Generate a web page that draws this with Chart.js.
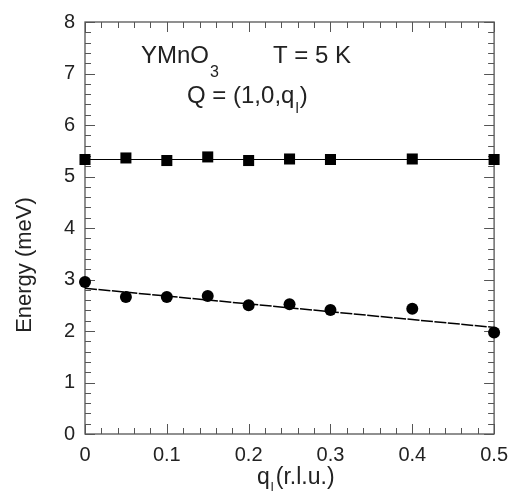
<!DOCTYPE html>
<html lang="en">
<head>
  <meta charset="UTF-8">
  <title>YMnO3 - Energy vs q</title>
  <script src="https://cdn.jsdelivr.net/npm/chart.js"></script>
  <style>
    html, body { margin: 0; padding: 0; background: #fff; }
  </style>
</head>
<body>
  <canvas id="myChart" width="517" height="501"></canvas>
  <script>
    // values
    const qValues = [0, 0.05, 0.1, 0.15, 0.2, 0.25, 0.3, 0.4, 0.5];
    const upperMode = [5.33, 5.36, 5.31, 5.38, 5.31, 5.34, 5.33, 5.34, 5.33];
    const lowerMode = [2.95, 2.66, 2.66, 2.68, 2.50, 2.52, 2.41, 2.43, 1.97];
    const fitQ = [0, 0.5];
    const upperFit = [5.33, 5.33];
    const lowerFit = [2.83, 2.07];

    const FONT = '"Liberation Sans", Arial, Helvetica, sans-serif';
    const frameColor = '#555';
    const textColor = '#222';

    const toPoints = (xs, ys) => xs.map((x, i) => ({ x: x, y: ys[i] }));

    // frame, inside ticks (major + minor), axis titles and the text labels
    const decorations = {
      id: 'decorations',
      beforeDatasetsDraw(chart) {
        const { ctx, chartArea: a, scales: { x, y } } = chart;
        ctx.save();
        ctx.strokeStyle = frameColor;
        ctx.lineWidth = 1.3;
        ctx.strokeRect(a.left, a.top, a.right - a.left, a.bottom - a.top);

        ctx.lineWidth = 1;
        ctx.beginPath();
        for (let i = 0; i <= 25; i++) {
          const px = Math.round(x.getPixelForValue(i * 0.02)) + 0.5;
          const len = i % 5 === 0 ? 10 : 6;
          ctx.moveTo(px, a.bottom); ctx.lineTo(px, a.bottom - len);
          ctx.moveTo(px, a.top); ctx.lineTo(px, a.top + len);
        }
        for (let i = 0; i <= 40; i++) {
          const py = Math.round(y.getPixelForValue(i * 0.2)) + 0.5;
          const len = i % 5 === 0 ? 10 : 6;
          ctx.moveTo(a.left, py); ctx.lineTo(a.left + len, py);
          ctx.moveTo(a.right, py); ctx.lineTo(a.right - len, py);
        }
        ctx.stroke();
        ctx.restore();
      },
      afterDraw(chart) {
        const { ctx } = chart;
        ctx.save();
        ctx.fillStyle = textColor;
        ctx.textBaseline = 'alphabetic';
        ctx.textAlign = 'left';

        // YMnO3   T = 5 K
        ctx.font = '24px ' + FONT;
        ctx.fillText('YMnO', 141, 63);
        let w = ctx.measureText('YMnO').width;
        ctx.font = '16px ' + FONT;
        ctx.fillText('3', 141 + w + 1, 77);
        ctx.font = '24px ' + FONT;
        ctx.fillText('T = 5 K', 273, 63);

        // Q = (1,0,ql)
        ctx.fillText('Q = (1,0,q', 187, 103);
        w = ctx.measureText('Q = (1,0,q').width;
        ctx.font = '15px ' + FONT;
        ctx.fillText('l', 187 + w + 1, 113);
        const wl = ctx.measureText('l').width;
        ctx.font = '24px ' + FONT;
        ctx.fillText(')', 187 + w + wl + 2, 103);

        // x axis title ql(r.l.u.)
        ctx.font = '23px ' + FONT;
        ctx.fillText('q', 257, 484);
        w = ctx.measureText('q').width;
        ctx.font = '13px ' + FONT;
        ctx.fillText('l', 257 + w + 1, 491);
        ctx.font = '23px ' + FONT;
        ctx.fillText('(r.l.u.)', 257 + w + 6, 484);

        // y axis title
        ctx.translate(25, 265);
        ctx.rotate(-Math.PI / 2);
        ctx.textAlign = 'center';
        ctx.textBaseline = 'middle';
        ctx.font = '22px ' + FONT;
        ctx.fillText('Energy (meV)', 0, 0);
        ctx.restore();
      }
    };

    new Chart(document.getElementById('myChart'), {
      type: 'scatter',
      data: {
        datasets: [
          {
            type: 'line',
            label: 'upper fit',
            data: toPoints(fitQ, upperFit),
            borderColor: '#000',
            borderWidth: 1.2,
            pointRadius: 0,
            fill: false
          },
          {
            type: 'line',
            label: 'lower fit',
            data: toPoints(fitQ, lowerFit),
            borderColor: '#000',
            borderWidth: 1.5,
            borderDash: [12, 1.5],
            pointRadius: 0,
            fill: false
          },
          {
            label: 'upper mode',
            data: toPoints(qValues, upperMode),
            pointStyle: 'rect',
            pointRadius: 7.8,
            pointHoverRadius: 7.8,
            backgroundColor: '#000',
            borderColor: '#000',
            borderWidth: 0,
            clip: false
          },
          {
            label: 'lower mode',
            data: toPoints(qValues, lowerMode),
            pointStyle: 'circle',
            pointRadius: 6,
            pointHoverRadius: 6,
            backgroundColor: '#000',
            borderColor: '#000',
            borderWidth: 0,
            clip: false
          }
        ]
      },
      options: {
        responsive: false,
        animation: false,
        devicePixelRatio: 1,
        layout: { padding: { top: 19, right: 14, left: 0, bottom: 0 } },
        plugins: {
          legend: { display: false },
          tooltip: { enabled: false }
        },
        scales: {
          x: {
            type: 'linear',
            min: 0,
            max: 0.5,
            grid: { display: false, drawTicks: false },
            border: { display: false },
            ticks: {
              stepSize: 0.1,
              padding: 9,
              color: textColor,
              font: { size: 20, family: FONT },
              callback: v => String(+v.toFixed(1))
            },
            afterFit: s => { s.height = 67; }
          },
          y: {
            min: 0,
            max: 8,
            grid: { display: false, drawTicks: false },
            border: { display: false },
            ticks: {
              stepSize: 1,
              padding: 10,
              color: textColor,
              font: { size: 20, family: FONT },
              callback: v => String(v)
            },
            afterFit: s => { s.width = 85; }
          }
        }
      },
      plugins: [decorations]
    });
  </script>
</body>
</html>
